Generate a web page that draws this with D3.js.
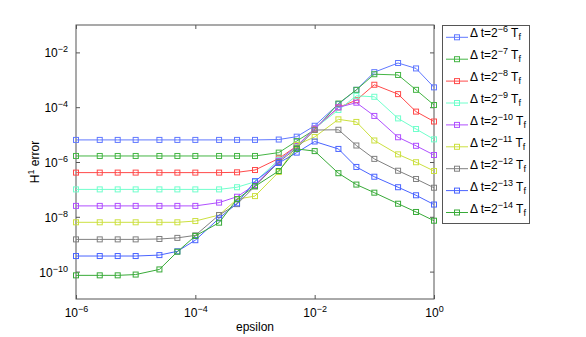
<!DOCTYPE html>
<html>
<head>
<meta charset="utf-8">
<script src="https://cdn.jsdelivr.net/npm/d3@7"></script>
<style>
  body { margin: 0; background: #fff; }
  text { font-family: "Liberation Sans", Arial, sans-serif; fill: #000; }
</style>
</head>
<body>
<div id="chart"></div>
<script>
// epsilon values (x)
const epsilon = [1e-6, 2.5e-6, 5e-6, 1e-5, 2.5e-5, 5e-5, 1e-4, 2.5e-4, 5e-4, 1e-3,
  2.5e-3, 5e-3, 1e-2, 2.5e-2, 5e-2, 0.1, 0.25, 0.5, 1];

// time step exponents for the legend
const dtExp = ["−6", "−7", "−8", "−9", "−10", "−11", "−12", "−13", "−14"];

// H1 error, one array per time step
const err6 = [6.4e-6, 6.4e-6, 6.4e-6, 6.4e-6, 6.4e-6, 6.4e-6, 6.4e-6, 6.4e-6, 6.4e-6, 6.4e-6,
  6.6e-6, 8.4e-6, 2.1e-5, 1.3e-4, 4.3e-4, 1.9e-3, 4.1e-3, 2.6e-3, 5.3e-4];
const err7 = [1.66e-6, 1.66e-6, 1.66e-6, 1.66e-6, 1.66e-6, 1.66e-6, 1.66e-6, 1.66e-6, 1.66e-6, 1.66e-6,
  2.2e-6, 5.8e-6, 1.5e-5, 1.36e-4, 4.3e-4, 1.6e-3, 1.5e-3, 4.3e-4, 1.2e-4];
const err8 = [4.1e-7, 4.1e-7, 4.1e-7, 4.1e-7, 4.1e-7, 4.1e-7, 4.1e-7, 4.1e-7, 4.2e-7, 5.1e-7,
  1.34e-6, 3.8e-6, 1.6e-5, 9.8e-5, 1.8e-4, 6.6e-4, 3.0e-4, 6.9e-5, 3.0e-5];
const err9 = [1.0e-7, 1.0e-7, 1.0e-7, 1.0e-7, 1.0e-7, 1.0e-7, 1.0e-7, 1.0e-7, 1.2e-7, 1.9e-7,
  1.2e-6, 3.5e-6, 1.7e-5, 7.9e-5, 2.6e-4, 2.4e-4, 3.9e-5, 1.6e-5, 6.7e-6];
const err10 = [2.5e-8, 2.5e-8, 2.5e-8, 2.5e-8, 2.5e-8, 2.5e-8, 2.5e-8, 3.3e-8, 5.4e-8, 1.45e-7,
  1.1e-6, 3.8e-6, 1.7e-5, 9.9e-5, 1.46e-4, 4.8e-5, 8.0e-6, 3.9e-6, 1.8e-6];
const err11 = [6.3e-9, 6.3e-9, 6.3e-9, 6.3e-9, 6.3e-9, 6.3e-9, 7.0e-9, 1.16e-8, 4.4e-8, 5.7e-8,
  4.3e-7, 4.2e-6, 8.2e-6, 3.6e-5, 2.9e-5, 6.1e-6, 1.9e-6, 9.8e-7, 4.7e-7];
const err12 = [1.5e-9, 1.5e-9, 1.5e-9, 1.5e-9, 1.55e-9, 1.7e-9, 2.1e-9, 1.16e-8, 2.9e-8, 1.3e-7,
  1.0e-6, 3.2e-6, 1.47e-5, 1.5e-5, 4.0e-6, 1.3e-6, 4.8e-7, 2.4e-7, 1.15e-7];
const err13 = [3.7e-10, 3.7e-10, 3.7e-10, 3.7e-10, 4.0e-10, 5.5e-10, 1.4e-9, 8.8e-9, 3.1e-8, 2.0e-7,
  9.2e-7, 2.2e-6, 5.6e-6, 3.0e-6, 6.6e-7, 2.9e-7, 1.2e-7, 6.1e-8, 2.8e-8];
const err14 = [7.3e-11, 7.3e-11, 7.3e-11, 7.8e-11, 1.2e-10, 5.3e-10, 2.0e-9, 6.1e-9, 4.4e-8, 1.3e-7,
  4.7e-7, 3.0e-6, 2.5e-6, 3.9e-7, 1.5e-7, 7.6e-8, 3.0e-8, 1.5e-8, 7.2e-9];

const xTicks = [1e-6, 1e-4, 1e-2, 1];
const xTickExp = ["−6", "−4", "−2", "0"];
const yTicks = [1e-10, 1e-8, 1e-6, 1e-4, 1e-2];
const yTickExp = ["−10", "−8", "−6", "−4", "−2"];

const allErr = [err6, err7, err8, err9, err10, err11, err12, err13, err14];
const colors = ["#6078ff", "#45b545", "#ff4a4a", "#70ffcc", "#b050ff", "#cce040", "#808080", "#4a64ff", "#38aa38"];

const W = 586, H = 337;
const plot = { left: 76, right: 434, top: 25, bottom: 299 };

const x = d3.scaleLog().domain([1e-6, 1]).range([plot.left, plot.right]);
const y = d3.scaleLog().domain([1e-11, 1e-1]).range([plot.bottom, plot.top]);

const svg = d3.select("#chart").append("svg").attr("width", W).attr("height", H);
svg.append("rect").attr("width", W).attr("height", H).attr("fill", "#fff");

// ticks on all four sides, pointing inward
function styleAxis(g) {
  g.select(".domain").remove();
  g.selectAll(".tick line").attr("stroke", "#555");
}
const axB = svg.append("g").attr("transform", `translate(0,${plot.bottom})`)
  .call(d3.axisBottom(x).tickValues(xTicks).tickSize(-4).tickFormat("")).call(styleAxis);
svg.append("g").attr("transform", `translate(0,${plot.top})`)
  .call(d3.axisTop(x).tickValues(xTicks).tickSize(-4).tickFormat("")).call(styleAxis);
const axL = svg.append("g").attr("transform", `translate(${plot.left},0)`)
  .call(d3.axisLeft(y).tickValues(yTicks).tickSize(-4).tickFormat("")).call(styleAxis);
svg.append("g").attr("transform", `translate(${plot.right},0)`)
  .call(d3.axisRight(y).tickValues(yTicks).tickSize(-4).tickFormat("")).call(styleAxis);

// tick labels 10^n
axB.selectAll(".tick").each(function (d, i) {
  const t = d3.select(this).append("text").attr("y", 18).attr("text-anchor", "middle")
    .attr("font-size", 12).attr("fill", "#000");
  t.append("tspan").text("10");
  t.append("tspan").attr("font-size", 9).attr("dy", -5).text(xTickExp[i]);
});
axL.selectAll(".tick").each(function (d, i) {
  const t = d3.select(this).append("text").attr("x", -8).attr("y", 4.5).attr("text-anchor", "end")
    .attr("font-size", 12).attr("fill", "#000");
  t.append("tspan").text("10");
  t.append("tspan").attr("font-size", 9).attr("dy", -5).text(yTickExp[i]);
});

// frame
svg.append("rect").attr("x", plot.left).attr("y", plot.top)
  .attr("width", plot.right - plot.left).attr("height", plot.bottom - plot.top)
  .attr("fill", "none").attr("stroke", "#555").attr("stroke-width", 1);

// axis titles
svg.append("text").attr("x", (plot.left + plot.right) / 2).attr("y", 331)
  .attr("text-anchor", "middle").attr("font-size", 12).text("epsilon");
const yt = svg.append("text").attr("transform", `translate(39,${(plot.top + plot.bottom) / 2}) rotate(-90)`)
  .attr("text-anchor", "middle").attr("font-size", 12);
yt.append("tspan").text("H");
yt.append("tspan").attr("font-size", 9).attr("dy", -5).text("1");
yt.append("tspan").attr("dy", 5).text(" error");

// series
const line = d3.line().x((d, i) => x(epsilon[i])).y(d => y(d));
allErr.forEach((err, k) => {
  const g = svg.append("g");
  g.append("path").datum(err).attr("d", line).attr("fill", "none")
    .attr("stroke", colors[k]).attr("stroke-width", 1);
  g.selectAll("rect").data(err).join("rect")
    .attr("x", (d, i) => x(epsilon[i]) - 2.5).attr("y", d => y(d) - 2.5)
    .attr("width", 5).attr("height", 5)
    .attr("fill", "none").attr("stroke", colors[k]).attr("stroke-width", 1);
});

// legend
const leg = svg.append("g");
leg.append("rect").attr("x", 442.5).attr("y", 25.5).attr("width", 87).attr("height", 198)
  .attr("fill", "#fff").attr("stroke", "#555");
dtExp.forEach((e, k) => {
  const ly = 37.3 + k * 21.9;
  leg.append("line").attr("x1", 446).attr("x2", 468).attr("y1", ly).attr("y2", ly)
    .attr("stroke", colors[k]);
  leg.append("rect").attr("x", 454.5).attr("y", ly - 2.5).attr("width", 5).attr("height", 5)
    .attr("fill", "none").attr("stroke", colors[k]);
  const t = leg.append("text").attr("x", 470).attr("y", ly).attr("font-size", 12);
  t.append("tspan").text("Δ t=2");
  t.append("tspan").attr("font-size", 9).attr("dy", -5).text(e);
  t.append("tspan").attr("dy", 5).text(" T");
  t.append("tspan").attr("font-size", 9).attr("dy", 3).text("f");
});
</script>
</body>
</html>
